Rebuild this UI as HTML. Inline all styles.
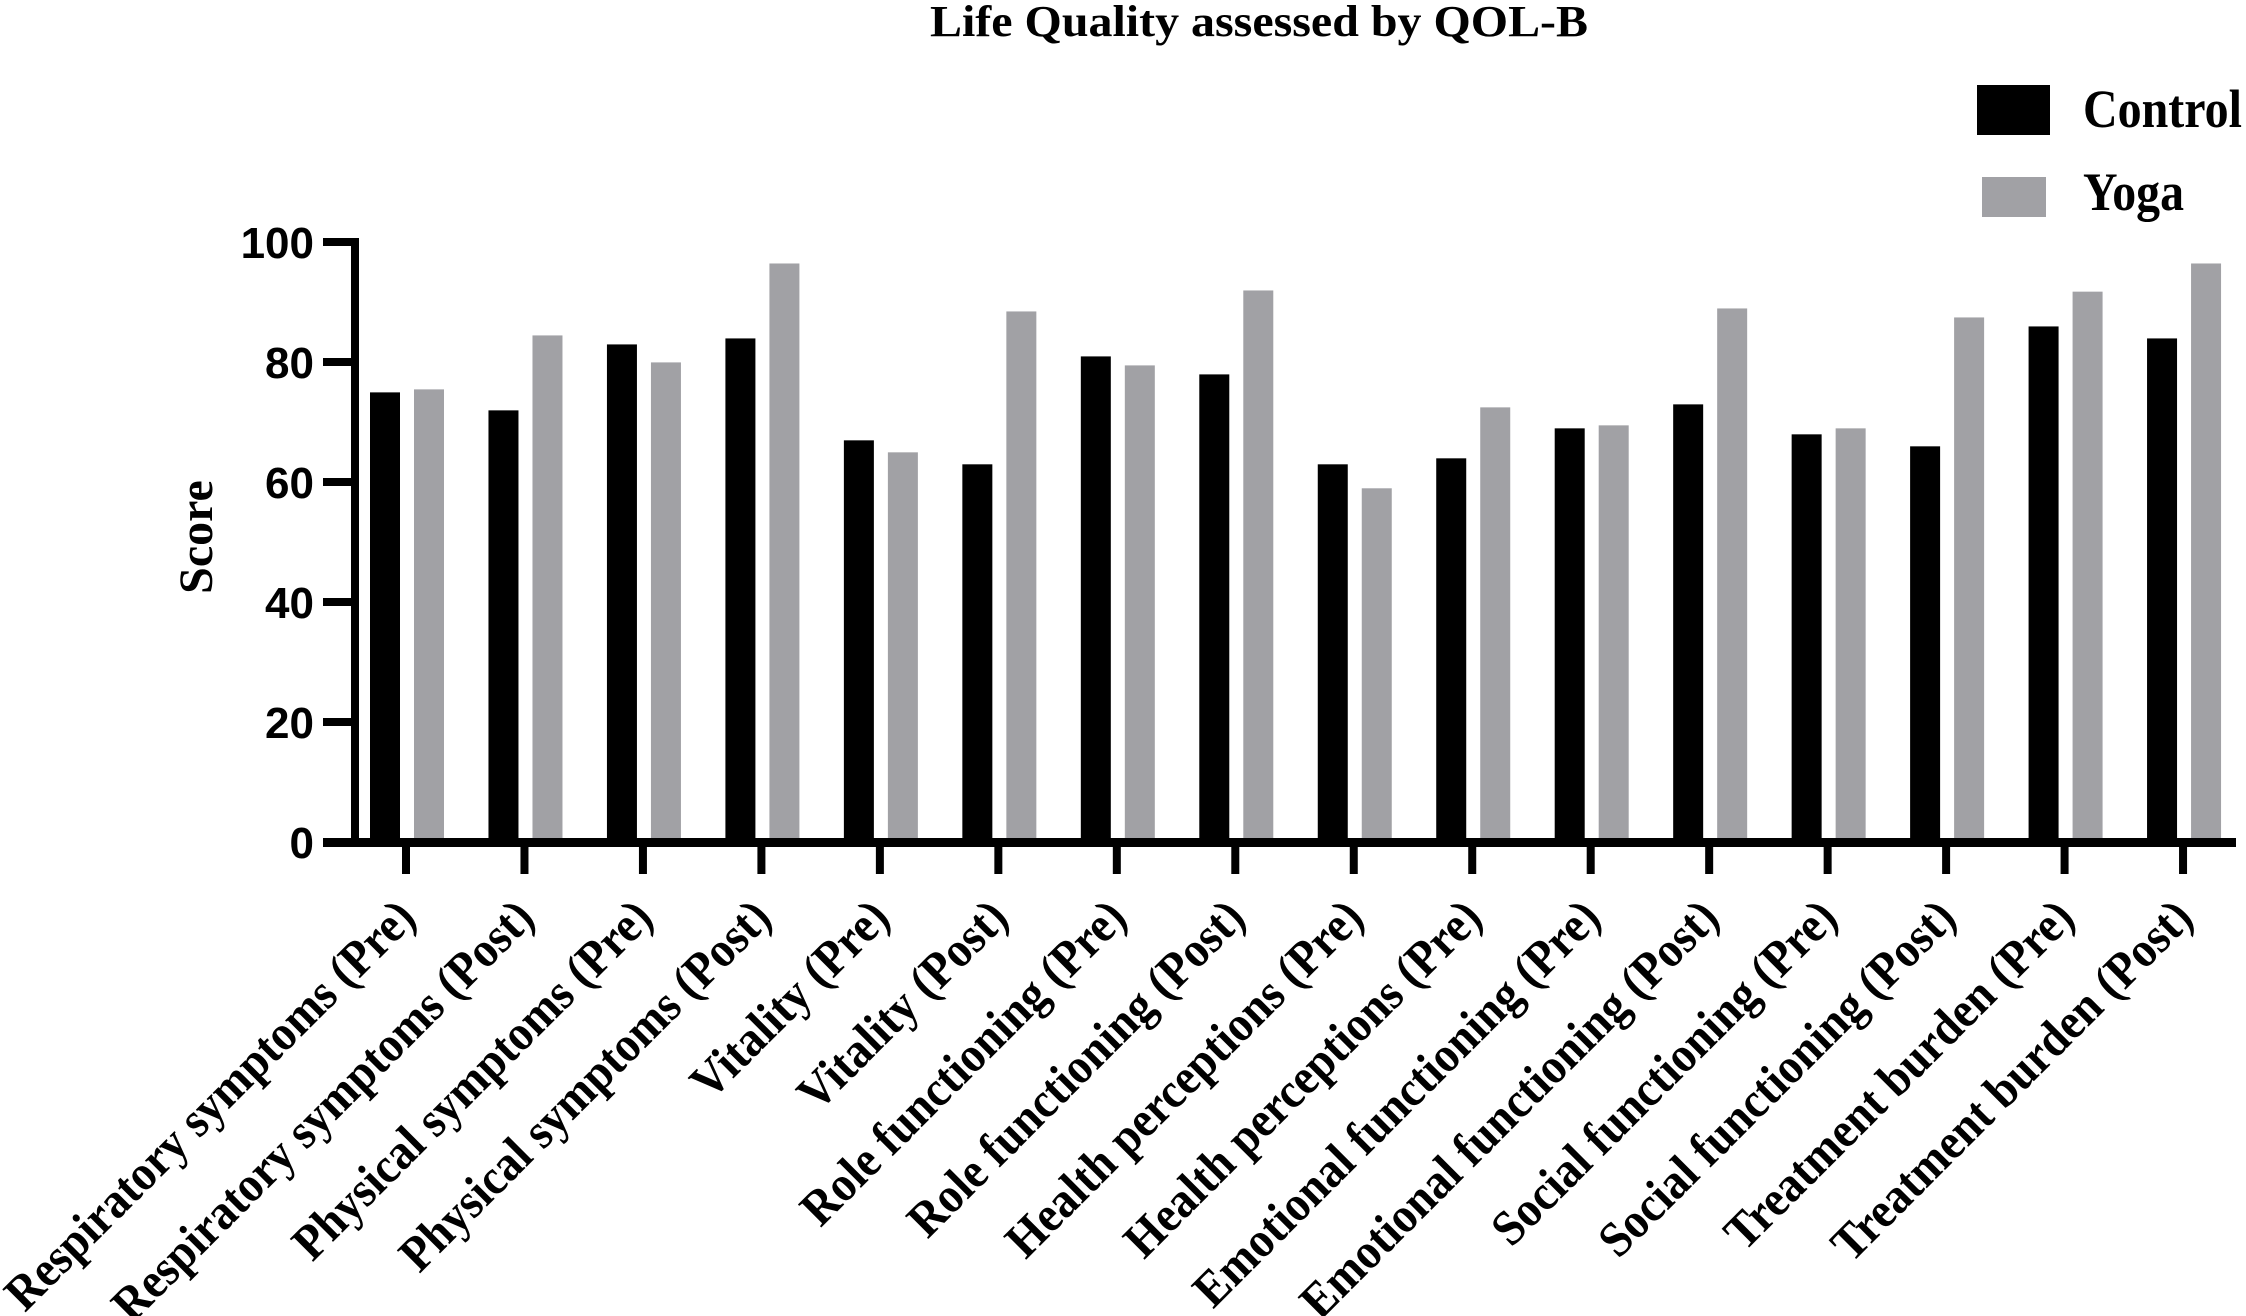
<!DOCTYPE html>
<html><head><meta charset="utf-8"><style>html,body{margin:0;padding:0;background:#fff}svg{display:block}</style></head>
<body>
<svg width="2246" height="1316" viewBox="0 0 2246 1316" xmlns="http://www.w3.org/2000/svg">
<rect width="2246" height="1316" fill="#fff"/>
<text x="1259" y="36" text-anchor="middle" font-family="Liberation Serif, serif" font-weight="bold" font-size="44" textLength="658" lengthAdjust="spacingAndGlyphs">Life Quality assessed by QOL-B</text>
<rect x="1977" y="85" width="73" height="50" fill="#000"/>
<text x="2083" y="127" font-family="Liberation Serif, serif" font-weight="bold" font-size="54" textLength="159" lengthAdjust="spacingAndGlyphs">Control</text>
<rect x="1982" y="177" width="64" height="40" fill="#a1a1a5"/>
<text x="2083" y="210" font-family="Liberation Serif, serif" font-weight="bold" font-size="54" textLength="101" lengthAdjust="spacingAndGlyphs">Yoga</text>
<text transform="translate(212,537) rotate(-90)" text-anchor="middle" font-family="Liberation Serif, serif" font-weight="bold" font-size="48">Score</text>
<g font-family="Liberation Sans, sans-serif" font-weight="bold" font-size="44" text-anchor="end">
<text x="314" y="258">100</text>
<text x="314" y="378">80</text>
<text x="314" y="498">60</text>
<text x="314" y="618">40</text>
<text x="314" y="738">20</text>
<text x="314" y="858">0</text>
</g>
<g id="bars"></g>
<g fill="#000">
<rect x="351" y="238" width="8" height="608"/>
<rect x="323" y="838" width="1913" height="9"/>
<rect x="323" y="238" width="32" height="8"/>
<rect x="323" y="358" width="32" height="8"/>
<rect x="323" y="478" width="32" height="8"/>
<rect x="323" y="598" width="32" height="8"/>
<rect x="323" y="718" width="32" height="8"/>
</g>
<g id="xt"></g>
<g id="lab" font-family="Liberation Serif, serif" font-weight="bold" font-size="50" text-anchor="end"></g>
<script>
var C=[75,72,83,84,67,63,81,78,63,64,69,73,68,66,86,84];
var Y=[75.5,84.5,80,96.5,65,88.5,79.5,92,59,72.5,69.5,89,69,87.5,91.8,96.5];
var L=["Respiratory symptoms (Pre)","Respiratory symptoms (Post)","Physical symptoms (Pre)","Physical symptoms (Post)","Vitality (Pre)","Vitality (Post)","Role functioning (Pre)","Role functioning (Post)","Health perceptions (Pre)","Health perceptions (Pre)","Emotional functioning (Pre)","Emotional functioning (Post)","Social functioning (Pre)","Social functioning (Post)","Treatment burden (Pre)","Treatment burden (Post)"];
var ns="http://www.w3.org/2000/svg",b=document.getElementById('bars'),xt=document.getElementById('xt'),lb=document.getElementById('lab');
function r(p,x,y,w,h,f){var e=document.createElementNS(ns,'rect');e.setAttribute('x',x);e.setAttribute('y',y);e.setAttribute('width',w);e.setAttribute('height',h);e.setAttribute('fill',f);p.appendChild(e);}
for(var i=0;i<16;i++){var t=406+i*118.47;
var yc=842-C[i]*5.995, yy=842-Y[i]*5.995;
r(b,t-36,yc,30,842-yc,'#000');r(b,t+8,yy,30,842-yy,'#a1a1a5');
r(xt,t-4,840,8,34,'#000');
var e=document.createElementNS(ns,'text');e.setAttribute('transform','translate('+(t+12)+',920) rotate(-45) scale(0.92,1)');e.textContent=L[i];lb.appendChild(e);}
</script>
</svg>
</body></html>
